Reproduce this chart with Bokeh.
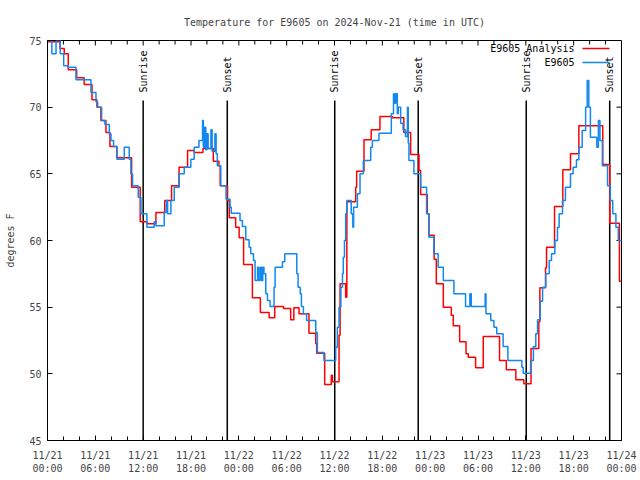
import datetime as dt
import numpy as np
from bokeh.plotting import figure
from bokeh.models import FixedTicker, DatetimeTickFormatter, Range1d
from bokeh.core.properties import value
from bokeh.embed import file_html
from bokeh.resources import INLINE

# ---------------- data (hours after 2024-11-21 00:00 UTC) ----------------
analysis_hours = [0.0, 1.57, 2.1, 2.6, 3.66, 4.6, 5.58, 6.2, 6.7, 7.33, 7.83, 8.7, 10.55,
                  11.63, 12.47, 13.6, 14.7, 15.56, 16.5, 17.57, 18.4, 19.5, 20.8, 21.5,
                  21.66, 22.58, 22.8, 23.6, 24.04, 24.6, 25.7, 26.7, 27.8, 28.5, 29.6,
                  30.5, 30.9, 31.55, 32.8, 33.65, 33.77, 34.77, 35.6, 35.74, 36.57, 36.7,
                  37.4, 37.55, 38.66, 38.78, 39.7, 40.6, 41.7, 43.25, 44.7, 45.55, 46.6,
                  46.8, 47.64, 47.85, 48.5, 48.77, 49.65, 50.65, 50.9, 51.7, 52.5, 52.78,
                  53.7, 54.66, 56.7, 57.55, 58.75, 59.75, 60.65, 61.63, 61.76, 62.47,
                  62.6, 63.6, 64.64, 65.6, 66.65, 69.65, 70.53, 71.74, 72.3]
analysis_temp = [74.9, 74.4, 74.0, 72.8, 72.2, 71.7, 70.55, 70.0, 69.0, 68.1, 67.05, 66.2, 64.0,
                 61.4, 61.25, 62.1, 63.0, 64.1, 65.5, 66.75, 66.6, 66.9, 65.95, 65.6,
                 64.1, 63.0, 61.7, 61.0, 60.2, 58.2, 55.7, 54.6, 54.2, 55.05, 54.9,
                 54.05, 54.95, 54.5, 53.05, 52.25, 51.55, 49.2, 49.9, 49.4, 52.9, 56.75,
                 55.75, 62.9, 64.0, 65.2, 67.55, 68.3, 69.3, 69.2, 68.1, 66.45, 65.25,
                 63.45, 62.0, 60.4, 58.6, 56.75, 55.0, 54.4, 53.6, 52.4, 51.5, 51.25,
                 50.45, 52.8, 51.0, 50.3, 49.55, 49.25, 51.9, 53.9, 56.45, 57.95,
                 59.5, 62.55, 65.3, 66.5, 68.6, 65.7, 61.3, 56.95, 56.95]

obs_hours = [0.0, 0.55, 1.07, 1.6, 2.03, 2.6, 3.57, 5.45, 6.08, 6.29, 6.79, 7.2, 7.75, 7.96,
             8.29, 8.71, 9.63, 10.25, 10.46, 10.67, 11.38, 11.72, 12.47, 13.38, 13.6, 14.64,
             14.9, 15.06, 15.48, 15.9, 16.52, 17.15, 17.98, 18.4, 19.0, 19.45, 19.55, 19.7,
             19.85, 20.0, 20.15, 20.5, 20.65, 21.0, 21.15, 21.3, 21.74, 22.4, 22.9, 23.05,
             24.15, 24.45, 24.87, 25.29, 25.5, 25.84, 26.04, 26.35, 26.5, 26.7, 26.85, 27.0,
             27.15, 27.38, 27.59, 27.92, 28.42, 28.55, 29.47, 29.76, 31.27, 31.43, 31.7,
             31.85, 32.1, 32.5, 33.65, 33.85, 34.68, 36.15, 36.36, 36.57, 36.8, 37.0, 37.1,
             37.25, 37.4, 37.55, 38.1, 38.3, 38.4, 38.87, 39.2, 39.62, 40.54, 40.75, 41.58,
             43.13, 43.4, 43.55, 43.7, 43.88, 44.0, 44.3, 44.6, 44.9, 45.15, 45.25, 45.34,
             45.96, 46.8, 47.55, 47.85, 48.47, 49.0, 49.65, 50.98, 52.44, 52.98, 53.15,
             54.9, 55.0, 55.6, 56.0, 56.35, 57.15, 57.75, 59.5, 59.67, 60.6, 60.95, 61.25,
             61.47, 61.8, 62.1, 62.5, 62.93, 63.22, 63.64, 63.97, 64.18, 64.6, 64.97, 65.6,
             65.93, 66.35, 66.65, 67.07, 67.5, 67.7, 67.9, 68.1, 68.9, 69.1, 69.3, 69.6,
             70.25, 70.6, 70.9, 71.3, 71.6, 72.3]
obs_temp = [75.0, 74.0, 75.0, 74.0, 73.1, 73.0, 72.05, 71.1, 70.4, 70.0, 69.0, 68.7, 68.0, 67.5,
            67.05, 66.1, 67.0, 66.1, 65.0, 64.1, 63.25, 62.0, 61.0, 61.4, 61.1, 62.1,
            63.0, 62.0, 63.0, 64.0, 65.0, 65.5, 66.1, 67.0, 67.5, 69.0, 67.0, 68.5,
            66.8, 68.0, 66.9, 68.3, 66.7, 68.0, 66.5, 65.6, 64.1, 63.1, 62.5, 62.05,
            61.5, 61.05, 60.05, 59.5, 59.0, 58.5, 57.0, 58.0, 57.0, 58.0, 57.0, 58.0,
            57.5, 56.0, 55.5, 55.05, 56.5, 58.0, 58.4, 59.0, 57.5, 56.5, 56.0,
            55.05, 54.5, 54.0, 53.1, 51.6, 51.0, 52.0, 53.5, 55.0, 56.5, 57.5, 58.75,
            60.0, 62.0, 63.0, 62.0, 61.0, 62.5, 63.5, 65.0, 66.0, 67.0, 67.5, 68.05,
            69.5, 71.0, 70.3, 71.0, 69.5, 70.0, 68.8, 68.3, 67.8, 70.0, 67.3, 66.0,
            65.0, 64.0, 62.0, 60.25, 59.0, 58.0, 57.0, 56.0, 55.05, 56.0, 55.05,
            56.0, 54.5, 54.0, 53.5, 53.0, 52.05, 51.0, 50.5, 50.05, 51.0, 52.05, 53.0,
            54.05, 55.45, 56.5, 57.5, 58.5, 59.0, 60.0, 61.0, 62.0, 63.0, 64.0, 65.0,
            65.5, 66.05, 67.0, 68.25, 70.0, 72.0, 70.0, 67.75, 67.0, 69.0, 67.5, 65.6,
            64.1, 63.0, 62.0, 61.0, 60.0, 60.0]

sun_hours = [12.0, 22.55, 36.03, 46.5, 60.05, 70.52]
sun_labels = ["Sunrise", "Sunset", "Sunrise", "Sunset", "Sunrise", "Sunset"]

series_names = ["E9605 Analysis", "E9605"]

y_ticks = [45, 50, 55, 60, 65, 70, 75]
x_major_hours = list(range(0, 73, 6))
x_minor_hours = [h for h in range(0, 73, 2) if h % 6]

# ---------------- helpers ----------------
START = dt.datetime(2024, 11, 21)
EPOCH = dt.datetime(1970, 1, 1)
X_END_H = 72.0
Y0, Y1 = 45, 75


def to_dt(hs):
    return [START + dt.timedelta(hours=h) for h in hs]


def to_ms(hs):
    return [((START - EPOCH).total_seconds() + h * 3600.0) * 1000.0 for h in hs]


FONT = "DejaVu Sans Mono"
RED = "#ff0000"
BLUE = "#1088f0"

W, H = 638, 478
BL, BR, BT, BB = 47, 17, 40, 38
FRAME_W = W - BL - BR
FRAME_H = H - BT - BB
PX_PER_H = FRAME_W / X_END_H
PX_PER_DEG = FRAME_H / (Y1 - Y0)


def dx(px):
    return dt.timedelta(hours=px / PX_PER_H)


def dy(px):
    return px / PX_PER_DEG


p = figure(width=W, height=H, output_backend="svg", toolbar_location=None,
           x_axis_type="datetime",
           x_range=Range1d(START, START + dt.timedelta(hours=X_END_H)),
           y_range=Range1d(Y0, Y1),
           min_border_left=BL, min_border_right=BR, min_border_top=BT, min_border_bottom=BB)

p.background_fill_color = "white"
p.border_fill_color = "white"
p.outline_line_color = "black"
p.outline_line_width = 1
p.xgrid.visible = False
p.ygrid.visible = False

p.title.text = "Temperature for E9605 on 2024-Nov-21 (time in UTC)"
p.title.align = "center"
p.title.text_font = FONT
p.title.text_font_size = "10px"
p.title.text_font_style = "normal"
p.title.standoff = 26

fmt_str = "%m/%d\n%H:%M"
fmt = DatetimeTickFormatter(microseconds=fmt_str, milliseconds=fmt_str, seconds=fmt_str,
                            minsec=fmt_str, minutes=fmt_str, hourmin=fmt_str, hours=fmt_str,
                            days=fmt_str, months=fmt_str, years=fmt_str)
xticker = FixedTicker(ticks=to_ms(x_major_hours), minor_ticks=to_ms(x_minor_hours))
yticker = FixedTicker(ticks=y_ticks)

xa = p.xaxis[0]
xa.ticker = xticker
xa.formatter = fmt
ya = p.yaxis[0]
ya.ticker = yticker
ya.axis_label = "degrees F"

for ax in (xa, ya):
    ax.major_label_text_font = FONT
    ax.major_label_text_font_size = "10px"
    ax.major_tick_in = 5
    ax.major_tick_out = 0
    ax.minor_tick_in = 4
    ax.minor_tick_out = 0
    ax.axis_line_color = "black"
    ax.major_tick_line_color = "black"
    ax.minor_tick_line_color = "black"
ya.minor_tick_line_color = None
ya.axis_label_text_font = FONT
ya.axis_label_text_font_size = "10px"
ya.axis_label_text_font_style = "normal"
ya.axis_label_standoff = 10
ya.major_label_standoff = 6
xa.major_label_standoff = 9

# mirrored tick marks on the top and right borders
x_end = START + dt.timedelta(hours=X_END_H)
top_major = to_dt(x_major_hours)
top_minor = to_dt(x_minor_hours)
p.segment(x0=top_major, y0=[Y1] * len(top_major), x1=top_major,
          y1=[Y1 - dy(5)] * len(top_major), line_color="black", line_width=1)
p.segment(x0=top_minor, y0=[Y1] * len(top_minor), x1=top_minor,
          y1=[Y1 - dy(4)] * len(top_minor), line_color="black", line_width=1)
p.segment(x0=[x_end] * len(y_ticks), y0=y_ticks,
          x1=[x_end - dx(5)] * len(y_ticks), y1=y_ticks,
          line_color="black", line_width=1)

# sunrise / sunset markers
sun_x = to_dt(sun_hours)
line_top = Y0 + 0.85 * (Y1 - Y0)
p.segment(x0=sun_x, y0=[Y0] * len(sun_x), x1=sun_x, y1=[line_top] * len(sun_x),
          line_color="black", line_width=1.5)
p.text(x=sun_x, y=[line_top + dy(8)] * len(sun_x), text=sun_labels, angle=np.pi / 2,
       text_align="left", text_baseline="middle", text_font=value(FONT),
       text_font_size="10px", text_color="black")

# series
r_an = p.step(to_dt(analysis_hours), analysis_temp, mode="after",
              line_color=RED, line_width=1.5)
r_ob = p.step(to_dt(obs_hours), obs_temp, mode="after",
              line_color=BLUE, line_width=1.5)

# gnuplot-style key (top right): name right-aligned, sample line to its right
key_y = [Y1 - dy(8), Y1 - dy(22)]
key_colors = [RED, BLUE]
p.segment(x0=[x_end - dx(39)] * 2, y0=key_y, x1=[x_end - dx(12)] * 2, y1=key_y,
          line_color=key_colors, line_width=1.5)
p.text(x=[x_end - dx(47)] * 2, y=key_y, text=series_names, text_align="right",
       text_baseline="middle", text_font=value(FONT), text_font_size="10px",
       text_color="black")

open("out.html", "w").write(file_html(p, INLINE))
